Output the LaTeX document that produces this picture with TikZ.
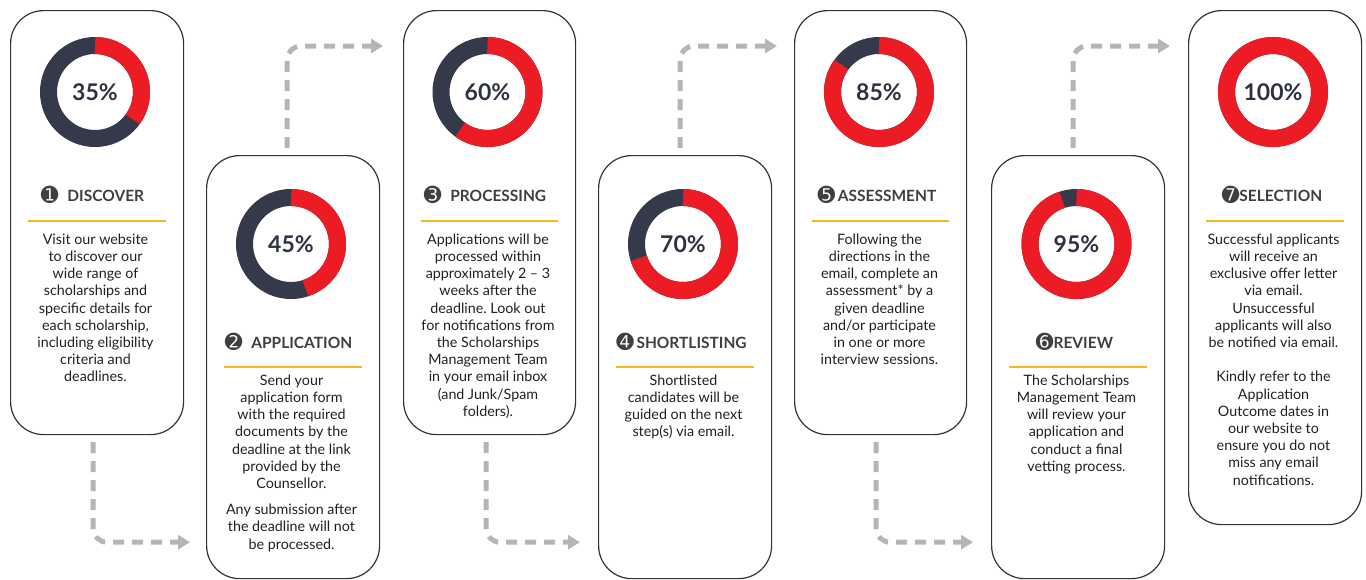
\documentclass[tikz,border=0pt]{standalone}
\usepackage{fontspec}
\setmainfont{Lato}
\newfontfamily\dejavu{DejaVu Sans}
\usetikzlibrary{calc,arrows.meta}
\frenchspacing
\definecolor{rd}{HTML}{ED1C24}
\definecolor{dk}{HTML}{343A4A}
\definecolor{pctc}{HTML}{2D3142}
\definecolor{ttl}{HTML}{3F3F41}
\definecolor{bodyc}{HTML}{231F20}
\definecolor{org}{HTML}{FDB515}
\definecolor{agray}{HTML}{B5B4B9}
\definecolor{edge}{HTML}{333333}
\tikzset{
  card/.style={draw=edge, line width=1.2pt, rounded corners=33pt, anchor=north west, inner sep=0pt},
  pct/.style={font=\fontsize{23}{23}\selectfont\bfseries, text=pctc, inner sep=0pt},
  ttlnode/.style={font=\fontsize{15.5}{15.5}\selectfont\bfseries, text=ttl, inner sep=0pt, anchor=base},
  bodytxt/.style={font=\fontsize{14.3}{17.2}\selectfont, text=bodyc, align=center, inner sep=0pt, anchor=north},
  rule/.style={draw=org, line width=2.4pt},
  flow/.style={draw=agray, line width=5pt, dash pattern=on 11pt off 8pt, rounded corners=14pt, -{Triangle[length=12pt,width=14pt]}}
}
\newcommand\mydonut[4]{%
  \draw[dk, line width=17pt] (#1,#2) circle (46.5);
  \draw[rd, line width=17pt] (#1,#2) ++(90:46.5) arc[start angle=90, delta angle=-3.6*#3, radius=46.5];
  \node[pct] (#4) at (#1,#2) {#3\%};
}
\newcommand\fs{\rule{0pt}{12pt}}
\newcommand\numc[1]{{\dejavu\fontsize{21}{21}\selectfont\raisebox{-1.2pt}{#1}}}
\begin{document}
\begin{tikzpicture}[x=1pt,y=1pt]
\useasboundingbox (0,0) rectangle (1366,-579);
% cards
\node[card, minimum width=173pt, minimum height=424pt] (c1) at (10,-10) {};
\node[card, minimum width=173pt, minimum height=423pt] (c2) at (206,-155) {};
\node[card, minimum width=172pt, minimum height=424pt] (c3) at (403,-10) {};
\node[card, minimum width=173pt, minimum height=423pt] (c4) at (598,-155) {};
\node[card, minimum width=172pt, minimum height=424pt] (c5) at (794,-10) {};
\node[card, minimum width=173pt, minimum height=423pt] (c6) at (991,-155) {};
\node[card, minimum width=173pt, minimum height=514pt] (c7) at (1188,-10) {};
% donuts
\mydonut{95}{-92}{35}{p1}
\mydonut{291}{-244}{45}{p2}
\mydonut{487.5}{-92}{60}{p3}
\mydonut{683}{-244}{70}{p4}
\mydonut{879}{-92}{85}{p5}
\mydonut{1076.5}{-244}{95}{p6}
\mydonut{1273}{-92}{100}{p7}
% titles
\node[ttlnode] (t1) at (92.5,-201.5) {\numc{➊}\,\, DISCOVER};
\node[ttlnode] (t2) at (288.5,-348.5) {\numc{➋}\,\, APPLICATION};
\node[ttlnode] (t3) at (485,-201.5) {\numc{➌}\,\, PROCESSING};
\node[ttlnode] (t4) at (681.5,-348.5) {\numc{➍}\,SHORTLISTING};
\node[ttlnode] (t5) at (877,-201.5) {\numc{➎}\,ASSESSMENT};
\node[ttlnode] (t6) at (1074.5,-348.5) {\numc{➏}REVIEW};
\node[ttlnode] (t7) at (1272,-201.5) {\numc{➐}SELECTION};
% orange rules
\foreach \c/\dy in {c1/211,c2/212,c3/211,c4/212,c5/211,c6/212,c7/211}{
  \draw[rule] ($(\c.north west)+(18,-\dy)$) -- ($(\c.north east)+(-18,-\dy)$);
}
% body texts
\node[bodytxt] (b1) at (95.5,-232) {\fs Visit our website\\to discover our\\wide range of\\scholarships and\\specific details for\\each scholarship,\\including eligibility\\criteria and\\deadlines.};
\node[bodytxt] (b2) at (291.5,-373) {\fs Send your\\application form\\with the required\\documents by the\\deadline at the link\\provided by the\\Counsellor.\\[9pt]Any submission after\\the deadline will not\\be processed.};
\node[bodytxt] (b3) at (488,-232) {\fs Applications will be\\processed within\\approximately 2 – 3\\weeks after the\\deadline. Look out\\for notifications from\\the Scholarships\\Management Team\\in your email inbox\\(and Junk/Spam\\folders).};
\node[bodytxt] (b4) at (683.5,-373) {\fs Shortlisted\\candidates will be\\guided on the next\\step(s) via email.};
\node[bodytxt] (b5) at (879.5,-232) {\fs Following the\\directions in the\\email, complete an\\assessment* by a\\given deadline\\and/or participate\\in one or more\\interview sessions.};
\node[bodytxt] (b6) at (1076.5,-373) {\fs The Scholarships\\Management Team\\will review your\\application and\\conduct a final\\vetting process.};
\node[bodytxt] (b7) at (1273.5,-232) {\fs Successful applicants\\will receive an\\exclusive offer letter\\via email.\\Unsuccessful\\applicants will also\\be notified via email.\\[17.2pt]Kindly refer to the\\Application\\Outcome dates in\\our website to\\ensure you do not\\miss any email\\notifications.};
% connectors
\draw[flow] ($(c1.south west)+(83,-7)$) |- ($(c2.south west)+(-16,37)$);
\draw[flow] ($(c2.north west)+(81,7)$) |- ($(c3.north west)+(-20,-36)$);
\draw[flow] ($(c3.south west)+(83,-7)$) |- ($(c4.south west)+(-18,37)$);
\draw[flow] ($(c4.north west)+(82,7)$) |- ($(c5.north west)+(-17,-36)$);
\draw[flow] ($(c5.south west)+(82,-7)$) |- ($(c6.south west)+(-18,37)$);
\draw[flow] ($(c6.north west)+(82,7)$) |- ($(c7.north west)+(-18,-36)$);
\end{tikzpicture}
\end{document}
